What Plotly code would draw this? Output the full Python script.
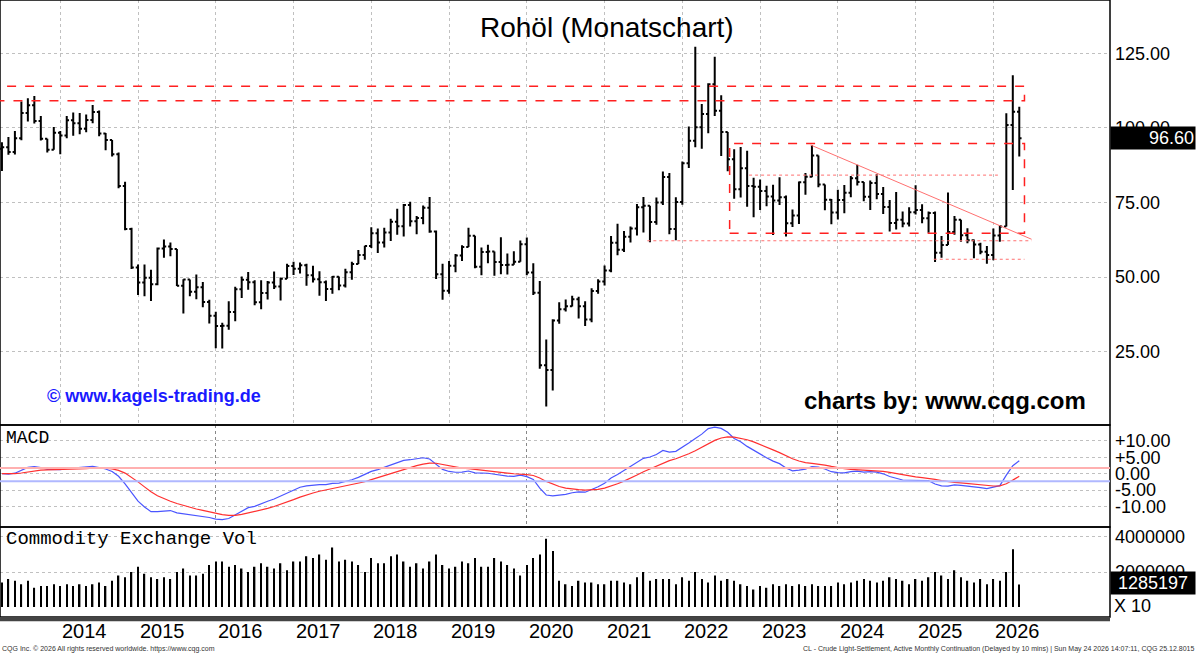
import numpy as np
import pandas as pd
import plotly.graph_objects as go

# Monthly bars Apr 2013 .. May 2026
closes = [93.5,91.97,96.56,105.03,107.65,102.33,96.38,92.72,98.42,
 97.49,102.59,101.58,99.74,102.71,105.37,98.17,95.96,91.16,80.54,66.15,53.27,
 48.24,49.76,47.60,59.63,60.30,59.47,47.12,49.20,45.09,46.59,41.65,37.04,
 33.62,33.75,38.34,45.92,49.10,48.33,41.60,44.70,48.24,46.86,49.44,53.72,
 52.81,54.01,50.60,49.33,48.32,46.04,50.17,47.23,51.67,54.38,57.40,60.42,
 64.73,61.64,64.94,68.57,67.04,74.15,68.76,69.80,73.25,65.31,50.93,45.41,
 53.79,57.22,60.14,63.91,53.50,58.47,58.58,55.10,54.07,54.18,55.17,61.06,
 51.56,44.76,20.48,18.84,35.49,39.27,40.27,42.61,40.22,35.79,45.34,48.52,
 52.20,61.50,59.16,63.58,66.32,73.47,73.95,68.50,75.03,83.57,66.18,75.21,
 88.15,95.72,100.28,104.69,114.67,105.76,98.62,89.55,79.49,86.53,80.55,80.26,
 78.87,77.05,75.67,76.78,68.09,70.64,81.80,83.63,90.79,81.02,75.96,71.65,
 75.85,78.26,83.17,81.93,76.99,81.54,77.91,73.55,68.17,69.26,68.00,71.72,
 72.53,69.76,71.48,58.21,60.79,65.11,69.26,64.01,62.37,60.98,58.55,57.40,
 64.0,67.0,101.0,105.4,96.6]
highs = [95.2,97.0,99.0,108.9,110.0,110.7,104.0,95.5,100.3,
 99.0,104.0,105.2,105.0,104.5,107.7,105.9,98.3,95.8,91.8,82.0,66.6,
 54.2,54.2,52.5,59.9,62.6,61.6,59.4,49.3,49.0,50.9,48.4,42.4,
 38.4,34.7,41.9,46.8,50.2,51.7,49.0,49.0,48.7,51.9,49.9,54.5,
 55.2,54.9,54.5,53.8,52.0,48.9,50.4,50.2,52.8,55.2,59.1,60.5,
 66.7,66.3,66.6,69.6,72.9,74.5,75.3,70.5,74.0,76.9,65.6,54.5,
 55.4,57.8,60.7,66.6,63.8,59.9,60.9,58.0,63.4,57.9,58.7,62.3,
 63.3,54.7,48.7,29.1,35.9,41.6,42.5,43.8,43.4,41.9,46.3,49.3,
 53.9,63.8,67.9,65.5,67.0,74.5,76.9,73.6,76.7,85.4,84.9,76.8,
 88.8,100.5,127.2,108.0,115.0,123.9,111.0,97.7,92.9,93.6,92.4,83.3,
 82.7,80.6,81.0,83.5,77.4,72.7,82.1,84.9,94.3,90.8,80.2,76.2,
 79.3,80.9,83.9,87.7,80.1,82.4,84.5,80.2,75.9,78.5,72.0,73.4,
 80.8,74.4,72.0,72.0,63.8,78.4,70.5,67.2,66.4,62.6,61.5,60.4,
 66.3,67.5,104.9,117.7,107.1]
lows = [85.6,91.0,91.1,95.9,102.2,101.5,95.8,91.8,92.8,
 91.2,96.6,97.4,97.9,98.6,101.6,97.2,92.5,90.4,79.8,65.7,52.7,
 44.0,43.6,42.0,47.3,56.5,57.0,47.0,37.8,43.6,42.6,39.9,34.5,
 26.2,26.1,32.4,35.2,43.0,45.8,40.6,39.2,42.5,46.0,42.2,49.6,
 50.7,51.2,47.1,48.2,43.8,42.0,44.4,45.6,46.5,49.1,54.5,55.8,
 59.8,58.1,59.9,62.1,64.2,63.6,67.0,64.4,67.7,64.9,49.4,42.4,
 44.4,51.6,55.4,60.2,53.0,50.6,54.7,50.5,51.0,50.9,55.0,55.4,
 50.6,44.0,19.3,6.6,12.0,34.4,38.5,40.2,36.1,33.6,34.9,44.4,
 47.2,51.6,57.3,58.4,61.6,64.0,65.0,61.7,67.6,74.2,64.4,62.4,
 74.3,86.6,93.5,93.0,98.2,104.0,90.6,85.5,76.3,76.7,73.6,70.1,
 72.5,73.8,64.1,74.2,63.6,66.8,67.8,77.6,83.5,80.1,72.4,67.7,
 69.3,71.4,76.8,80.7,75.4,72.5,76.1,71.2,65.3,66.0,66.7,67.0,
 71.0,68.1,64.9,55.1,56.5,61.9,64.2,61.9,61.4,56.3,57.7,54.5,
 55.7,61.9,67.0,79.2,90.4]
volume_m = [1.4,1.6,1.5,1.3,1.5,1.1,1.2,1.2,1.3,
 1.2,1.3,1.2,1.3,1.2,1.3,1.4,1.2,1.5,1.8,1.7,2.0,
 2.3,1.9,1.7,1.6,1.7,1.6,2.0,2.2,1.8,1.8,1.9,2.4,
 2.6,2.6,2.3,2.4,2.2,2.0,2.3,2.5,2.3,2.2,2.5,2.1,
 2.6,2.6,2.9,2.8,3.0,2.7,3.4,2.6,2.7,2.6,2.4,2.0,
 2.8,2.5,2.5,2.9,3.0,2.6,2.3,2.5,2.2,2.6,3.0,2.4,
 2.2,2.3,2.6,2.5,2.8,2.3,2.3,2.8,2.6,2.4,2.2,1.8,
 2.4,2.8,3.0,3.9,3.2,1.5,1.3,1.2,1.5,1.4,1.4,1.3,
 1.3,1.5,1.5,1.4,1.3,1.7,2.0,1.5,1.6,1.6,1.6,1.3,
 1.7,1.5,2.0,1.6,1.4,1.8,1.5,1.6,1.5,1.3,1.2,1.0,
 1.2,1.1,1.3,1.2,1.3,1.2,1.3,1.2,1.3,1.2,1.2,1.2,
 1.4,1.3,1.4,1.5,1.6,1.5,1.4,1.5,1.7,1.6,1.5,1.3,
 1.6,1.5,1.7,2.0,1.8,1.6,2.1,1.7,1.5,1.4,1.6,1.3,
 1.6,1.5,2.0,3.3,1.285197]
first_open = 93.0
years = list(range(2014, 2027))
price_ticks = [25, 50, 75, 100, 125]
macd_ticks = [10, 5, 0, -5, -10]
macd_labels = ["+10.00", "+5.00", "0.00", "-5.00", "-10.00"]

n = len(closes)
x = np.arange(n)
c = np.array(closes)
o = np.concatenate([[first_open], c[:-1]])
h = np.maximum(np.array(highs), np.maximum(o, c))
l = np.minimum(np.array(lows), np.minimum(o, c))
vol = np.array(volume_m) * 1e6

cs = pd.Series(c)
macd = cs.ewm(span=12, adjust=False).mean() - cs.ewm(span=26, adjust=False).mean()
signal = macd.ewm(span=9, adjust=False).mean()

def yidx(y):
    return (y - 2013) * 12 - 3

XR = [-0.3, 171]
PW = 1110.0
fig = go.Figure()
fig.add_trace(go.Ohlc(x=x, open=o, high=h, low=l, close=c, xaxis="x", yaxis="y",
    increasing=dict(line=dict(color="black", width=2)),
    decreasing=dict(line=dict(color="black", width=2)), tickwidth=0.35, hoverinfo="skip"))
fig.add_trace(go.Scatter(x=x, y=macd, mode="lines", line=dict(color="#4a55ff", width=1.2), xaxis="x2", yaxis="y2"))
fig.add_trace(go.Scatter(x=x, y=signal, mode="lines", line=dict(color="#ff3030", width=1.2), xaxis="x2", yaxis="y2"))
fig.add_trace(go.Bar(x=x, y=vol, marker=dict(color="black", line=dict(width=0)), width=0.22, xaxis="x3", yaxis="y3"))

H = 617.0
d_main = [1 - 425 / H, 1]
d_macd = [1 - 527 / H, 1 - 425 / H]
d_vol = [0, 1 - 527 / H]
ax_common = dict(range=XR, showticklabels=False, zeroline=False, ticks="")
TF = dict(size=18, family="Liberation Sans")
fig.update_layout(
    width=1200, height=654, margin=dict(l=0, r=90, t=0, b=37, pad=0, autoexpand=False),
    paper_bgcolor="white", plot_bgcolor="white", showlegend=False,
    font=dict(family="Liberation Sans", color="black"),
    xaxis=dict(**ax_common, anchor="y", rangeslider=dict(visible=False),
               showgrid=True, gridcolor="#c0c0c0", griddash="dot", gridwidth=1,
               tickvals=[yidx(y) for y in years]),
    xaxis2=dict(**ax_common, anchor="y2", matches="x", showgrid=True, gridcolor="#888",
                griddash="dot", tickvals=[yidx(y) for y in [2016, 2020, 2024]]),
    xaxis3=dict(**ax_common, anchor="y3", matches="x", showgrid=False),
    yaxis=dict(domain=d_main, side="right", range=[0.44, 142.9], tickvals=price_ticks,
               ticktext=[f"{v}.00" for v in price_ticks], showgrid=True, gridcolor="#c0c0c0",
               griddash="dot", zeroline=False, tickfont=TF, ticks="", ticklabelstandoff=4),
    yaxis2=dict(domain=d_macd, side="right", range=[-16.2, 14.8], tickvals=macd_ticks,
                ticktext=macd_labels, showgrid=True, gridcolor="#c0c0c0", griddash="dot",
                zeroline=False, tickfont=TF, ticks="", ticklabelstandoff=4),
    yaxis3=dict(domain=d_vol, side="right", range=[-0.57e6, 4.57e6], tickvals=[2e6, 4e6],
                ticktext=["2000000", "4000000"], showgrid=True, gridcolor="#c0c0c0",
                griddash="dot", zeroline=False, tickfont=TF, ticks="", ticklabelstandoff=4),
)

shapes = []
for dom in (d_main, d_macd, d_vol):
    shapes.append(dict(type="rect", xref="paper", yref="paper", x0=0, x1=1, y0=dom[0], y1=dom[1],
                       line=dict(color="black", width=1.5)))
red = "#ff2020"
shapes.append(dict(type="line", xref="x2 domain", yref="y2", x0=0, x1=1, y0=1.7, y1=1.7,
                   line=dict(color="#ffb0b0", width=2)))
shapes.append(dict(type="line", xref="x2 domain", yref="y2", x0=0, x1=1, y0=-2.3, y1=-2.3,
                   line=dict(color="#b0b8ff", width=2)))
shapes.append(dict(type="rect", xref="x", yref="y", x0=-1, x1=157.8, y0=109.1, y1=114.0,
                   line=dict(color=red, width=1.5, dash="dash")))
shapes.append(dict(type="rect", xref="x", yref="y", x0=112.3, x1=157.8, y0=64.7, y1=94.8,
                   line=dict(color=red, width=1.5, dash="dash")))
shapes.append(dict(type="line", xref="x", yref="y", x0=124.8, x1=158.9, y0=94.3, y1=62.7,
                   line=dict(color="#ff7070", width=1)))
shapes.append(dict(type="line", xref="x", yref="y", x0=115.3, x1=153.7, y0=84.2, y1=84.2,
                   line=dict(color="#ff7070", width=1, dash="dot")))
shapes.append(dict(type="line", xref="x", yref="y", x0=99.6, x1=158.9, y0=62.2, y1=62.2,
                   line=dict(color="#ff7070", width=1, dash="dot")))
shapes.append(dict(type="line", xref="x", yref="y", x0=143.8, x1=157.8, y0=56.0, y1=56.0,
                   line=dict(color="#ff7070", width=1, dash="dot")))
shapes.append(dict(type="rect", xref="paper", yref="paper", x0=0, x1=1, y0=-0.007, y1=0,
                   fillcolor="#444", line=dict(width=0)))
fig.update_layout(shapes=shapes)

def A(**kw):
    kw.setdefault("showarrow", False)
    kw.setdefault("yanchor", "middle")
    return kw

annotations = [A(text="Rohöl (Monatschart)", xref="paper", yref="paper", x=607 / PW, y=1 - 28 / H,
                 font=dict(size=28, family="Liberation Sans")),
    A(text="<b>© www.kagels-trading.de</b>", xref="paper", yref="paper", x=45 / PW, y=1 - 396 / H,
      xanchor="left", font=dict(size=18, color="#1a1aff")),
    A(text="<b>charts by: www.cqg.com</b>", xref="paper", yref="paper", x=1088 / PW, y=1 - 400 / H,
      xanchor="right", font=dict(size=24)),
    A(text="MACD", xref="paper", yref="paper", x=4 / PW, y=1 - 438 / H, xanchor="left",
      font=dict(size=18, family="Liberation Mono")),
    A(text="Commodity Exchange Vol", xref="paper", yref="paper", x=4 / PW, y=1 - 539 / H,
      xanchor="left", font=dict(size=19, family="Liberation Mono")),
    A(text="96.60", xref="paper", yref="y", x=1.0, y=c[-1], xanchor="left",
      bgcolor="black", font=dict(size=18, color="white"), width=82, align="right"),
    A(text="1285197", xref="paper", yref="paper", x=1.0, y=1 - 583 / H, xanchor="left",
      bgcolor="black", font=dict(size=18, color="white"), width=82),
    A(text="X 10", xref="paper", yref="paper", x=1.0, y=1 - 606 / H, xanchor="left", font=TF, xshift=2),
    A(text="CQG Inc. © 2026 All rights reserved worldwide. https://www.cqg.com", xref="paper",
      yref="paper", x=0, y=1 - 649 / H, xanchor="left", font=dict(size=7, color="#333")),
    A(text="CL - Crude Light-Settlement, Active Monthly Continuation (Delayed by 10 mins) | Sun May 24 2026 14:07:11, CQG 25.12.8015",
      xref="paper", yref="paper", x=1196 / PW, y=1 - 649 / H, xanchor="right", font=dict(size=7, color="#333")),
]
for yr in years:
    annotations.append(A(text=str(yr), xref="x", yref="paper", x=yidx(yr), y=1 - 631 / H,
                         xanchor="left", font=dict(size=20, family="Liberation Sans Narrow, Liberation Sans")))
fig.update_layout(annotations=annotations)
fig.write_html("out.html", config={"displayModeBar": False},
               post_script="document.body.style.margin='0';document.body.style.padding='0';")
